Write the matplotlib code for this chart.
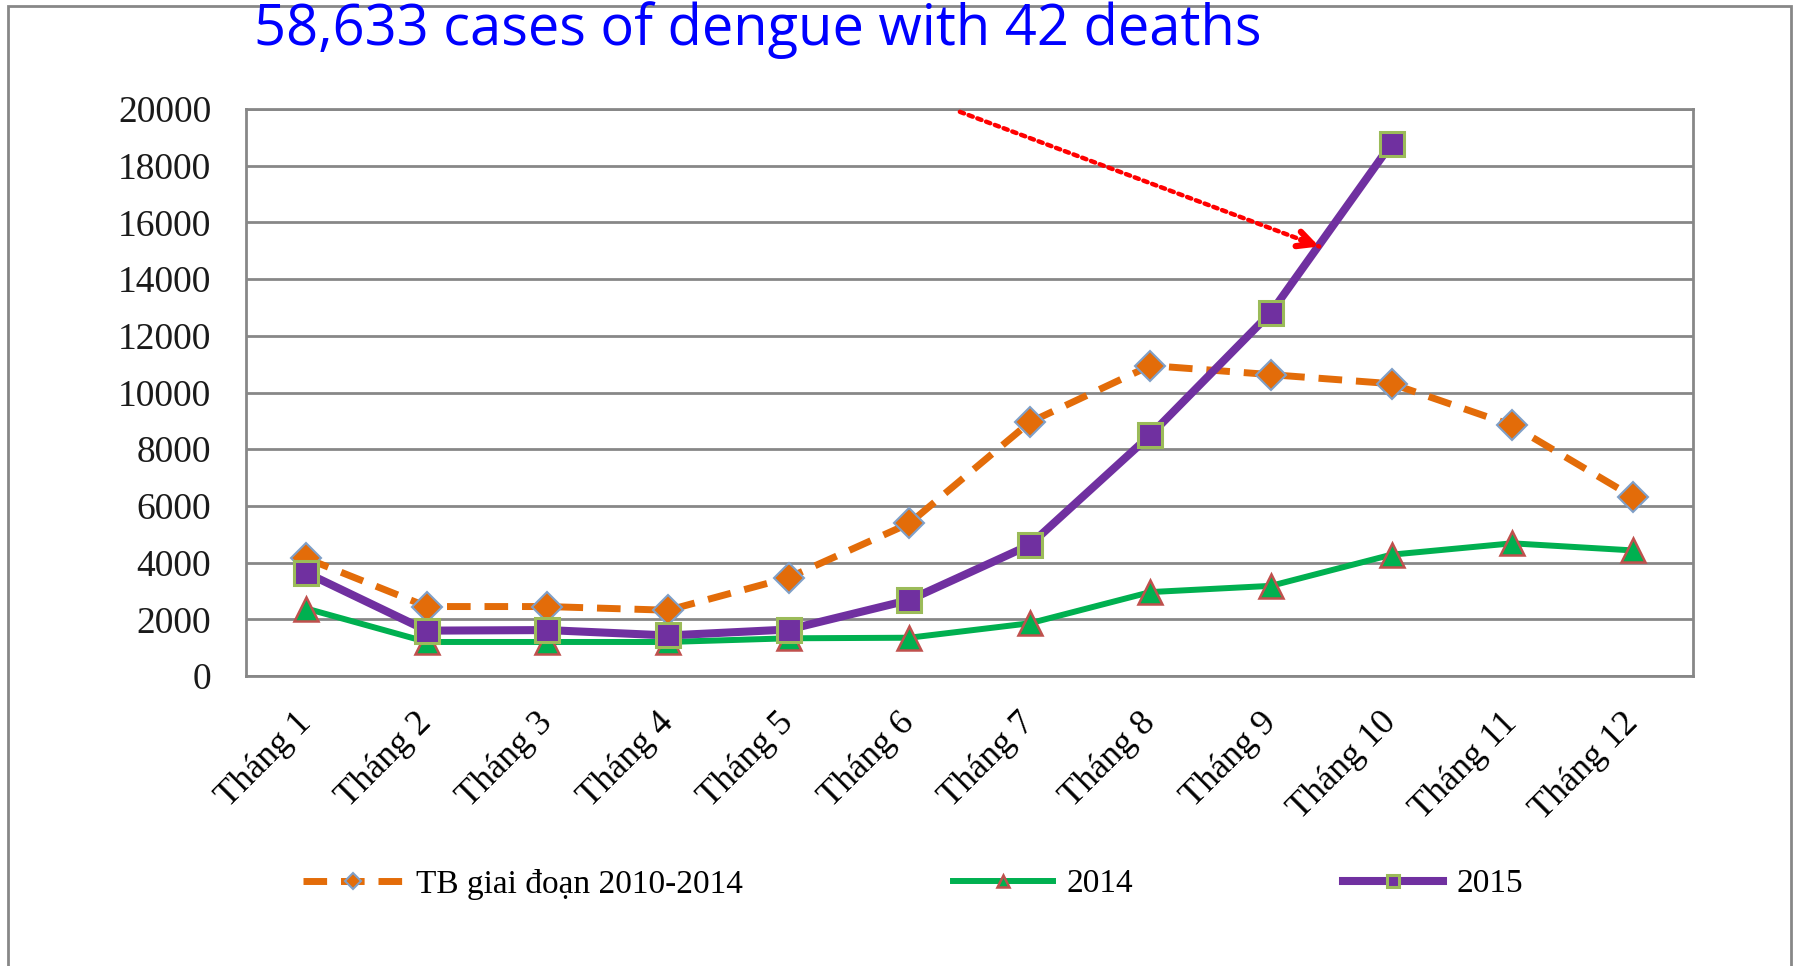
import numpy as np
import matplotlib
matplotlib.use("Agg")
from matplotlib import pyplot as plt
from matplotlib.patches import Rectangle

# data
months = ["Tháng 1", "Tháng 2", "Tháng 3", "Tháng 4", "Tháng 5", "Tháng 6",
          "Tháng 7", "Tháng 8", "Tháng 9", "Tháng 10", "Tháng 11", "Tháng 12"]
avg_2010_2014 = [4150, 2450, 2450, 2320, 3470, 5380, 8950, 10950, 10630, 10310, 8840, 6320]
cases_2014 = [2380, 1200, 1200, 1200, 1330, 1350, 1860, 2960, 3180, 4280, 4680, 4430]
cases_2015 = [3640, 1600, 1620, 1430, 1640, 2680, 4620, 8500, 12820, 18780]
yticks = list(range(0, 20001, 2000))

title = "58,633 cases of dengue with 42 deaths"
labels = ["TB giai đoạn 2010-2014", "2014", "2015"]

W, H = 1797, 966
grey = "#878787"

fig = plt.figure(figsize=(W / 100, H / 100), dpi=100)
ax = fig.add_axes([246 / W, 1 - 676 / H, (1693 - 246) / W, (676 - 109) / H])

x = np.arange(len(months))

ax.plot(x, avg_2010_2014, color="#E36C09", lw=5, dashes=(3.4, 2.0),
        marker="D", ms=15, mfc="#E36C09", mec="#7F9FC8", mew=1.5,
        label=labels[0], zorder=3)
ax.plot(x, cases_2014, color="#00B050", lw=4.3,
        marker="^", ms=17, mfc="#00B050", mec="#C0504D", mew=1.8,
        label=labels[1], zorder=4)
ax.plot(x[:len(cases_2015)], cases_2015, color="#7030A0", lw=5.8,
        marker="s", ms=17, mfc="#7030A0", mec="#9BBB59", mew=2.2,
        label=labels[2], zorder=5)

# red dotted arrow pointing at the 2015 curve
ax.annotate("", xy=(8.40, 15150), xytext=(5.42, 19900),
            arrowprops=dict(arrowstyle="-", color="red", lw=3.2,
                            linestyle=(0, (1, 1.1)), shrinkA=0, shrinkB=0),
            annotation_clip=False, zorder=6)
ax.annotate("", xy=(8.40, 15150), xytext=(8.25, 15380),
            arrowprops=dict(arrowstyle="->,head_length=1.1,head_width=0.55",
                            color="red", lw=4.5, shrinkA=0, shrinkB=0),
            zorder=6)

ax.set_xlim(-0.5, len(months) - 0.5)
ax.set_ylim(0, 20000)
ax.set_yticks(yticks)
ax.set_yticklabels([str(v) for v in yticks], family="Liberation Serif",
                   fontsize=27, color="#1a1a1a")
ax.set_xticks(x)
ax.set_xticklabels(months, family="Liberation Serif", fontsize=26,
                   rotation=45, ha="right", va="center", rotation_mode="anchor")
ax.tick_params(axis="both", length=0)
ax.tick_params(axis="y", pad=25)
ax.tick_params(axis="x", pad=30)

ax.grid(axis="y", color=grey, lw=2)
ax.set_axisbelow(True)
for s in ax.spines.values():
    s.set_color(grey)
    s.set_linewidth(2)

leg = fig.legend(loc="center", bbox_to_anchor=(913 / W, 1 - 884 / H), ncol=3,
                 frameon=False, prop={"family": "Liberation Serif", "size": 24},
                 handlelength=3.0, handletextpad=0.4, columnspacing=6.3,
                 numpoints=1, markerscale=0.55)

fig.text(254 / W, 1 - 45 / H, title, color="#0000FF", fontsize=40.3,
         family="Open Sans", ha="left", va="baseline")

# outer frame of the picture
fig.add_artist(Rectangle((8 / W, -0.05), (1791 - 8) / W, 1.05 - 6 / H,
                         transform=fig.transFigure, fill=False,
                         edgecolor=grey, lw=2))

fig.savefig("out.png", dpi=100, facecolor="white")
